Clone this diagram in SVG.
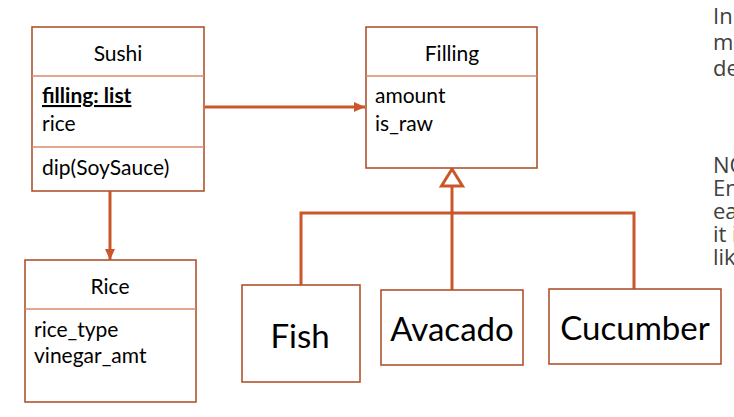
<svg xmlns="http://www.w3.org/2000/svg" width="734" height="417" viewBox="0 0 734 417">
<style>
.box{fill:#fff;stroke:#B0532E;stroke-width:1.6}
.div{stroke:#D98A66;stroke-width:1.3}
.t{font-family:Lato,"Liberation Sans",sans-serif;font-size:21px;fill:#000}
.c{text-anchor:middle}
.big{font-family:Lato,"Liberation Sans",sans-serif;font-size:33px;fill:#000;text-anchor:middle}
.con{fill:none;stroke:#CB5629;stroke-width:3}
.side{font-family:"Open Sans","Liberation Sans",sans-serif;font-size:22px;fill:#404040}
</style>
<defs>
<marker id="ah" markerWidth="12" markerHeight="12" viewBox="0 0 12 12" refX="11" refY="6" orient="auto" markerUnits="userSpaceOnUse">
<path d="M0,1 L11,6 L0,11 Z" fill="#CB5629"/>
</marker>
</defs>
<g id="connectors">
<line class="con" x1="205" y1="107" x2="365" y2="107" marker-end="url(#ah)"/>
<line class="con" x1="110" y1="191" x2="110" y2="260" marker-end="url(#ah)"/>
<polyline class="con" points="301,285 301,213 634,213 634,289"/>
<line class="con" x1="452" y1="186" x2="452" y2="290"/>
<path d="M452,169 L441.5,186 L462.5,186 Z" fill="#fff" stroke="#CB5629" stroke-width="3" stroke-linejoin="miter"/>
</g>
<g id="sushi">
<rect class="box" x="32" y="27" width="172" height="164"/>
<line class="div" x1="32" y1="76" x2="204" y2="76"/>
<line class="div" x1="32" y1="147" x2="204" y2="147"/>
<text class="t c" x="118" y="61">Sushi</text>
<text class="t" x="42" y="103" font-weight="bold" text-decoration="underline">filling: list</text>
<text class="t" x="42" y="131">rice</text>
<text class="t" x="42" y="175">dip(SoySauce)</text>
</g>
<g id="filling">
<rect class="box" x="366" y="27" width="171" height="141"/>
<line class="div" x1="366" y1="76" x2="537" y2="76"/>
<text class="t c" x="452" y="61">Filling</text>
<text class="t" x="375" y="103">amount</text>
<text class="t" x="375" y="131">is_raw</text>
</g>
<g id="rice">
<rect class="box" x="25" y="260" width="171" height="142"/>
<line class="div" x1="25" y1="309" x2="196" y2="309"/>
<text class="t c" x="110" y="294">Rice</text>
<text class="t" x="34" y="337">rice_type</text>
<text class="t" x="34" y="363">vinegar_amt</text>
</g>
<g id="fish">
<rect class="box" x="242" y="285" width="118" height="97"/>
<text class="big" x="300" y="348">Fish</text>
</g>
<g id="avacado">
<rect class="box" x="381" y="290" width="142" height="75"/>
<text class="big" x="452" y="341">Avacado</text>
</g>
<g id="cucumber">
<rect class="box" x="549" y="289" width="172" height="75"/>
<text class="big" x="635" y="340">Cucumber</text>
</g>
<g id="notes">
<text class="side" x="713" y="24">Inh</text>
<text class="side" x="713" y="50">mo</text>
<text class="side" x="713" y="76">de</text>
<text class="side" x="713" y="173">NO</text>
<text class="side" x="713" y="196">En</text>
<text class="side" x="713" y="219">ea</text>
<text class="side" x="713" y="242">it i</text>
<text class="side" x="713" y="265">lik</text>
</g>
</svg>
